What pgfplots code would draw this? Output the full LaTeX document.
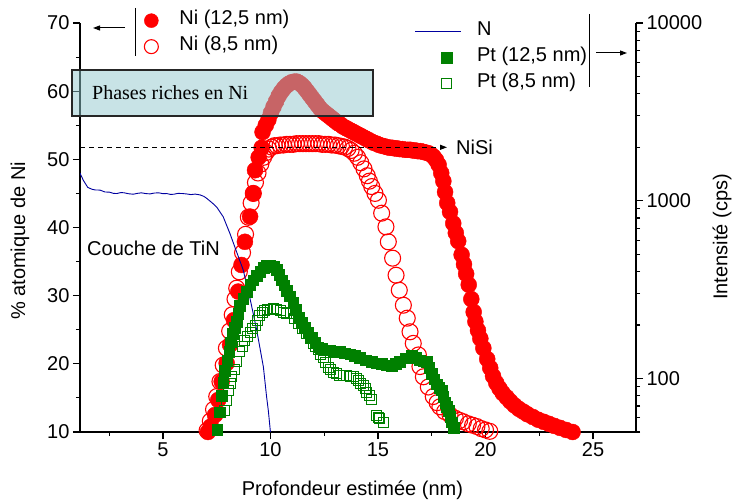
\documentclass[border=0pt]{standalone}
\usepackage{fontspec}
\setmainfont{Liberation Sans}
\newfontfamily\seriffont{Liberation Serif}
\usepackage{pgfplots}
\pgfplotsset{compat=1.18}
\usetikzlibrary{arrows.meta}
\definecolor{nired}{RGB}{255,0,0}
\definecolor{ptgreen}{RGB}{0,128,0}
\definecolor{nblue}{RGB}{0,0,160}
\definecolor{boxfill}{RGB}{145,200,205}
\newcommand\ff{\fontsize{20}{24}\selectfont}
\pgfplotsset{
  nlegend/.style={legend image code/.code={\draw[##1,overlay] (-23pt,0pt) -- (23pt,0pt); \path[draw=none,fill=none] (-8pt,-5pt) rectangle (8pt,5pt);}},
  common/.style={
    at={(80pt,69pt)}, anchor=south west, scale only axis,
    width=556pt, height=409pt,
    xmin=1.14, xmax=27,
    tick align=outside, major tick length=7pt, minor tick length=4pt,
    every tick/.style={black, line width=1.1pt},
    axis line style={black, line width=1.3pt},
    ticklabel style={font=\ff},
    label style={font=\ff},
    /pgf/number format/assume math mode=true,
    legend cell align=left,
  }
}
\begin{document}
\begin{tikzpicture}
\path[use as bounding box] (0pt,0pt) rectangle (737pt,501pt);
\begin{axis}[common,
  ymin=10, ymax=70,
  axis x line*=bottom, axis y line*=left,
  xtick={5,10,15,20,25}, minor xtick={2.5,7.5,12.5,17.5,22.5},
  ytick={10,20,30,40,50,60,70}, minor ytick={15,25,35,45,55,65},
  xlabel={Profondeur estimée (nm)},
  ylabel={\% atomique de Ni},
  xlabel style={at={(axis description cs:0.49,-0.142)}, anchor=center},
  ylabel style={at={(axis description cs:-0.108,0.467)}, anchor=center},
  reverse legend,
  legend style={at={(axis description cs:0.1154,1.038)}, anchor=north west,
    draw=none, fill=none, font=\ff, row sep=0pt, inner sep=0pt, column sep=19pt,
    nodes={inner sep=2pt, text height=15pt, text depth=7pt}},
]
% Ni (8,5 nm) open circles
\addplot[only marks, mark=o, mark size=8pt, color=nired, line width=1.1pt, legend image post style={mark size=7pt}] coordinates {
(7.05,10.2)(7.2,11.6)(7.35,13.3)(7.5,15.2)(7.65,17.4)(7.8,19.8)(7.95,22.3)(8.1,24.8)
(8.22,27.2)(8.35,29.5)(8.43,31.1)(8.55,33.5)(8.7,36.3)(8.84,39.0)(8.97,41.5)(9.1,43.6)
(9.2,45.0)(9.3,46.6)(9.42,48.0)(9.55,49.3)(9.68,50.3)(9.8,51.0)(9.92,51.5)(10.05,51.8)
(10.18,52.0)(10.3,52.0)(10.45,52.1)(10.6,52.1)(10.75,52.2)(10.9,52.2)(11.05,52.2)
(11.2,52.3)(11.35,52.3)(11.5,52.3)(11.65,52.3)(11.8,52.3)(11.95,52.3)(12.1,52.3)
(12.25,52.3)(12.4,52.2)(12.55,52.2)(12.7,52.2)(12.85,52.1)(13.0,52.1)(13.15,52.0)
(13.3,51.9)(13.45,51.8)(13.6,51.6)(13.75,51.3)(13.9,50.9)(14.05,50.3)(14.2,49.5)
(14.35,48.6)(14.5,47.6)(14.6,46.8)(14.71,46.0)(14.86,45.0)(15.02,44.0)(15.17,42.1)
(15.37,40.1)(15.48,37.9)(15.68,35.5)(15.84,33.0)(15.99,30.8)(16.18,28.6)(16.36,26.7)
(16.49,24.7)(16.64,23.0)(16.88,21.3)(16.95,19.6)(17.11,18.1)(17.34,16.6)(17.57,15.2)
(17.75,14.3)(17.88,13.7)(18.1,13.0)(18.35,12.5)(18.6,12.0)(18.8,11.7)(18.97,11.5)
(19.2,11.2)(19.4,11.0)(19.6,10.8)(19.8,10.5)(20.0,10.3)(20.2,10.1)(20.45,9.9)
};
\addlegendentry{Ni (8,5 nm)}
% Ni (12,5 nm) filled circles
\addplot[only marks, mark=*, mark size=8pt, color=nired, fill=nired, legend image post style={mark size=7pt}] coordinates {
(7.09,10.0)(7.22,10.8)(7.42,12.5)(7.57,14.7)(7.73,17.4)(7.96,20.1)(8.12,22.8)(8.30,26.4)
(8.50,30.6)(8.65,34.5)(8.81,37.9)(9.05,41.6)(9.20,45.0)(9.28,48.4)(9.45,50.3)(9.59,51.7)
(9.63,54.0)(9.78,55.0)(9.90,55.8)(10.02,56.8)(10.14,57.7)(10.26,58.5)(10.38,59.3)
(10.50,59.9)(10.62,60.4)(10.74,60.8)(10.86,61.1)(10.98,61.3)(11.10,61.4)(11.22,61.4)
(11.34,61.2)(11.46,60.9)(11.58,60.5)(11.70,60.0)(11.82,59.5)(11.94,59.0)(12.06,58.5)
(12.18,58.0)(12.30,57.5)(12.42,57.1)(12.54,56.8)(12.66,56.5)(12.78,56.2)(12.90,55.9)
(13.02,55.6)(13.14,55.3)(13.26,55.1)(13.38,54.8)(13.50,54.6)(13.62,54.4)(13.74,54.2)
(13.86,54.0)(13.98,53.8)(14.10,53.6)(14.22,53.4)(14.34,53.2)(14.46,53.0)(14.58,52.8)
(14.70,52.6)(14.82,52.4)(14.94,52.3)(15.06,52.1)(15.18,52.0)(15.30,51.9)(15.42,51.8)
(15.54,51.7)(15.66,51.7)(15.78,51.6)(15.90,51.6)(16.02,51.5)(16.14,51.5)(16.26,51.4)
(16.38,51.4)(16.50,51.4)(16.62,51.3)(16.74,51.3)(16.86,51.2)(16.98,51.2)(17.10,51.1)
(17.22,51.0)(17.34,50.9)(17.46,50.7)(17.58,50.4)(17.70,49.9)(17.82,49.2)(17.94,48.0)
(18.04,46.8)(18.12,45.2)(18.22,43.6)(18.35,42.3)(18.5,40.6)(18.62,39.2)(18.73,38.0)
(18.89,36.0)(19.0,34.6)(19.1,33.2)(19.22,31.6)(19.34,29.5)(19.45,27.6)(19.53,26.2)
(19.65,24.9)(19.76,23.7)(19.9,22.3)(20.08,20.7)(20.22,19.4)(20.35,18.2)(20.5,17.2)
(20.65,16.4)(20.8,15.7)(20.98,15.1)(21.15,14.5)(21.35,13.9)(21.55,13.4)(21.75,13.0)
(21.95,12.6)(22.2,12.2)(22.45,11.8)(22.7,11.5)(22.95,11.2)(23.2,10.9)(23.47,10.6)
(23.75,10.3)(24.05,10.0)(24.3,9.8)
};
\addlegendentry{Ni (12,5 nm)}
\end{axis}
\begin{axis}[common,
  ymode=log, ymin=50, ymax=10000,
  axis x line=none, axis y line*=right,
  ytick={100,1000,10000}, yticklabels={100,1000,10000},
  minor ytick={50,60,70,80,90,200,300,400,500,600,700,800,900,2000,3000,4000,5000,6000,7000,8000,9000},
  ylabel={Intensité (cps)},
  ylabel style={at={(axis description cs:1.155,0.477)}, anchor=center},
  legend style={at={(axis description cs:0.6296,1.011)}, anchor=north west,
    draw=none, fill=none, font=\ff, row sep=0pt, inner sep=0pt, column sep=23pt,
    nodes={inner sep=2pt, text height=15pt, text depth=7pt}},
]
% N
\addplot[color=nblue, line width=0.9pt, mark=none, nlegend] coordinates {
(1.14,1429)(1.3,1300)(1.5,1189)(1.7,1160)(1.85,1150)(2.07,1148)(2.3,1120)(2.5,1118)
(2.7,1100)(2.85,1098)(3.05,1112)(3.2,1108)(3.4,1095)(3.62,1088)(3.8,1100)(4.0,1108)
(4.2,1097)(4.4,1093)(4.6,1105)(4.8,1108)(5.0,1096)(5.17,1098)(5.35,1085)(5.5,1088)
(5.7,1100)(5.9,1098)(6.1,1092)(6.3,1083)(6.5,1090)(6.72,1079)(6.9,1058)(7.03,1032)
(7.3,970)(7.5,920)(7.8,813)(8.12,651)(8.43,513)(8.73,408)(9.05,281)(9.36,187)
(9.67,116)(9.82,78.6)(9.9,65.9)(10.0,49.6)(10.05,45)
};
\addlegendentry{N}
% Pt (12,5 nm) filled squares
\addplot[only marks, mark=square*, mark size=5.3pt, color=ptgreen, fill=ptgreen] coordinates {
(7.53,51.4)(7.63,64.7)(7.73,80.1)(7.8,94.7)(7.88,111)(7.98,126)(8.08,142)(8.16,160)
(8.24,179)(8.34,193)(8.43,208)(8.5,232)(8.58,257)(8.73,281)(8.89,308)(9.05,336)
(9.2,358)(9.36,380)(9.52,400)(9.67,419)(9.82,430)(9.98,434)(10.14,424)(10.29,408)
(10.4,385)(10.52,357)(10.63,335)(10.75,313)(10.9,290)(11.06,267)(11.18,243)(11.3,221)
(11.45,207)(11.6,194)(11.76,182)(11.92,171)(12.07,160)(12.22,150)(12.38,147)(12.53,144)
(12.77,144)(13.0,142)(13.23,141)(13.46,139)(13.7,137)(13.93,134)(14.16,131)(14.44,127)
(14.71,124)(14.94,122)(15.17,121)(15.4,119)(15.63,118)(15.83,121)(16.02,124)(16.3,130)
(16.56,135)(16.75,131)(16.95,127)(17.1,125)(17.26,124)(17.38,115)(17.49,106)(17.61,99)
(17.73,93)(17.85,89)(17.96,85.9)(18.04,79)(18.12,73.3)(18.2,69.5)(18.28,65.9)(18.36,61)
(18.43,56.7)(18.52,53)(18.6,49.6)
};
\addlegendentry{Pt (12,5 nm)}
% Pt (8,5 nm) open squares
\addplot[only marks, mark=square, mark size=5pt, color=ptgreen, line width=1pt] coordinates {
(7.88,65.9)(7.96,75.2)(8.04,85.9)(8.12,93.8)(8.19,102)(8.31,112)(8.43,124)(8.58,141)
(8.7,152)(8.81,164)(8.93,173)(9.05,182)(9.17,191)(9.28,199)(9.4,212)(9.51,227)(9.62,235)
(9.74,242)(9.86,245)(9.98,246)(10.14,247)(10.29,246)(10.45,241)(10.6,236)(10.75,233)
(10.91,231)(11.1,217)(11.3,203)(11.5,190)(11.68,179)(11.84,167)(11.99,157)(12.1,151)
(12.22,146)(12.33,136)(12.45,131)(12.57,123)(12.69,116)(12.8,112)(12.92,108)(13.08,106)
(13.23,104)(13.39,104)(13.54,104)(13.7,103)(13.85,102)(13.98,99.4)(14.09,97.2)(14.2,93.8)
(14.32,91.4)(14.4,87.4)(14.47,83.6)(14.6,80.1)(14.71,76.6)(14.94,61.9)(15.02,60.3)
(15.09,59.3)(15.25,56.7)
};
\addlegendentry{Pt (8,5 nm)}
\end{axis}
% annotations
\draw[black!85, line width=1.2pt, fill=boxfill, fill opacity=0.5] (72pt,385pt) rectangle (373pt,431pt);
\node[anchor=west, inner sep=0pt, font=\seriffont\fontsize{20}{24}\selectfont] at (92pt,408pt) {Phases riches en Ni};
\draw[black, line width=1pt, dash pattern=on 5pt off 4pt, -{Triangle[length=7pt,width=5pt]}] (80pt,353.7pt) -- (447pt,353.7pt);
\node[anchor=west, inner sep=0pt, font=\ff] at (456pt,353.7pt) {NiSi};
\node[anchor=west, inner sep=0pt, font=\ff] at (87pt,253pt) {Couche de TiN};
\draw[black, line width=1pt] (135pt,493pt) -- (135pt,445pt);
\draw[black, line width=1pt, -{Triangle[length=7pt,width=5pt]}] (125pt,473pt) -- (93pt,473pt);
\draw[black, line width=1pt] (589pt,487pt) -- (589pt,414pt);
\draw[black, line width=1pt, -{Triangle[length=7pt,width=5pt]}] (596pt,448pt) -- (627pt,448pt);
\end{tikzpicture}
\end{document}
